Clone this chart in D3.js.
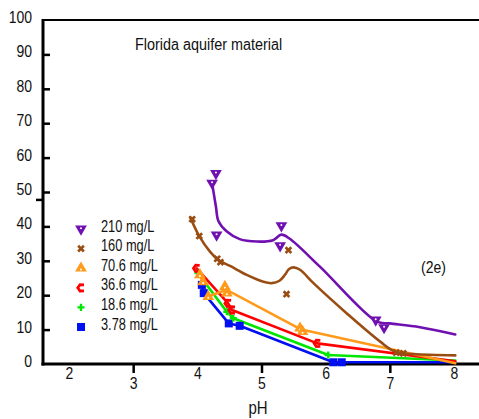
<!DOCTYPE html>
<meta charset="utf-8">
<title>Florida aquifer material</title>
<style>
body { margin: 0; background: #fff; }
svg text { font-family: 'Liberation Sans', Arial, sans-serif; fill: #111; }
.axis .domain { display: none; }
.axis .tick line { stroke: #000; stroke-width: 2.5; }
.fit { fill: none; stroke-width: 2.6; stroke-linejoin: round; stroke-linecap: round; }
</style>
<body>
<svg width="479" height="419"></svg>
<script src="https://d3js.org/d3.v7.min.js"></script>
<script>
// series labels and colours
var seriesNames = ["210 mg/L", "160 mg/L", "70.6 mg/L", "36.6 mg/L", "18.6 mg/L", "3.78 mg/L"];
var seriesColors = ["#7010b0", "#9a4d12", "#ff9a1a", "#ff0000", "#00e600", "#0010f0"];

// measured points [pH, % sorbed]
var pts210 = [[4.29,55.4],[4.23,52.6],[4.30,37.5],[5.31,40.2],[5.29,34.4],[6.78,12.8],[6.91,10.6]];
var pts160 = [[3.92,42.1],[4.03,37.2],[4.31,30.6],[4.36,29.6],[5.42,33.1],[5.39,20.3],[7.10,3.3],[7.21,3.1]];
var pts70  = [[4.04,25.9],[4.09,23.9],[4.17,19.6],[4.43,22.5],[4.46,20.6],[5.60,10.4],[5.64,9.4]];
var pts36  = [[3.99,27.8],[4.48,17.6],[4.54,15.7],[5.87,6.0]];
var pts18  = [[4.01,26.4],[4.46,15.2],[4.56,13.3],[6.04,2.6]];
var pts3   = [[4.07,23.0],[4.10,20.6],[4.49,11.8],[4.66,11.1],[6.12,0.5],[6.25,0.5]];

// model curves [pH, % sorbed]
var fit210 = [[4.23,52.6],[4.29,45.7],[4.33,41.5],[4.46,38.5],[4.66,36.3],[4.93,35.6],[5.18,36.0],[5.31,37.6],[5.44,36.4],[5.91,28.3],[6.80,12.3],[7.00,11.8],[7.47,10.7],[8.02,8.6]];
var fit160 = [[3.89,42.6],[4.03,37.2],[4.20,32.6],[4.33,30.2],[4.51,28.5],[4.77,25.9],[5.03,23.9],[5.16,23.5],[5.28,24.2],[5.36,25.8],[5.43,27.6],[5.50,28.1],[5.60,27.4],[5.81,23.5],[6.33,14.7],[6.85,6.5],[7.08,3.6],[7.37,2.9],[8.02,2.5]];
var fit70  = [[4.04,25.9],[4.17,19.6],[4.45,21.6],[5.62,10.0],[8.02,0.2]];
var fit36  = [[3.99,27.8],[4.48,17.6],[4.54,15.7],[5.87,6.0],[8.02,0.8]];
var fit18  = [[4.01,26.4],[4.46,15.2],[4.56,13.3],[6.04,2.6],[8.02,1.0]];
var fit3   = [[4.07,23.0],[4.10,20.6],[4.49,11.8],[4.66,11.1],[6.12,0.5],[8.02,0.5]];

var yTicks = d3.range(0, 101, 10);
var xTicks = [2, 3, 4, 5, 6, 7, 8];

var svg = d3.select("svg");

var x = d3.scaleLinear().domain([2, 8]).range([69, 454]);
var y = d3.scaleLinear().domain([0, 100]).range([364, 20]);

var x0 = 43, xEnd = 479;
var tall = "scale(1,1.2)";   // the source lettering is drawn a bit tall

// frame: left axis, top rule, bottom axis
svg.append("line").attr("x1", x0).attr("x2", x0).attr("y1", y(100) - 1).attr("y2", y(0) + 1.5)
  .attr("stroke", "#000").attr("stroke-width", 3);
svg.append("line").attr("x1", x0).attr("x2", xEnd).attr("y1", y(100)).attr("y2", y(100))
  .attr("stroke", "#000").attr("stroke-width", 2);
svg.append("line").attr("x1", x0 - 1.5).attr("x2", xEnd).attr("y1", y(0)).attr("y2", y(0))
  .attr("stroke", "#000").attr("stroke-width", 3);
// stray outer tick left of the axis
svg.append("line").attr("x1", x0 - 7).attr("x2", x0).attr("y1", y(47.7)).attr("y2", y(47.7))
  .attr("stroke", "#000").attr("stroke-width", 2.5);

// y axis
var gy = svg.append("g").attr("class", "axis")
  .attr("transform", "translate(" + x0 + ",0)")
  .call(d3.axisLeft(y).tickValues(yTicks).tickSizeInner(-7).tickSizeOuter(0).tickPadding(11));
gy.selectAll(".tick text").attr("font-size", 14).attr("dy", 2).attr("transform", tall);
gy.selectAll(".tick").filter(function(d) { return d === 100 || d === 0; }).select("line").remove();

// x axis: odd ticks hang down, their labels sit lower
var gx = svg.append("g").attr("class", "axis")
  .attr("transform", "translate(0," + y(0) + ")")
  .call(d3.axisBottom(x).tickValues(xTicks).tickFormat(d3.format("d"))
    .tickSizeInner(9).tickSizeOuter(0).tickPadding(0));
gx.selectAll(".tick").filter(function(d) { return d % 2 === 0; }).select("line").remove();
gx.selectAll(".tick text").attr("font-size", 14)
  .attr("y", function(d) { return d % 2 === 0 ? 12.5 : 20.8; })
  .attr("dy", 0).attr("transform", tall);

function label(px, py, size, sy, str, anchor) {
  return svg.append("text")
    .attr("transform", "translate(" + px + "," + py + ") scale(1," + sy + ")")
    .attr("font-size", size).attr("text-anchor", anchor || "start").text(str);
}

label(258, 414, 15, 1.2, "pH", "middle");
label(135, 50, 14.4, 1.2, "Florida aquifer material");
label(421, 273, 14, 1.2, "(2e)");

// curves
var smooth = d3.line().x(function(d) { return x(d[0]); }).y(function(d) { return y(d[1]); })
  .curve(d3.curveCatmullRom.alpha(0.5));
var straight = d3.line().x(function(d) { return x(d[0]); }).y(function(d) { return y(d[1]); });

var fits = [
  {data: fit3, c: 5, line: straight},
  {data: fit18, c: 4, line: straight},
  {data: fit36, c: 3, line: straight},
  {data: fit70, c: 2, line: straight},
  {data: fit160, c: 1, line: smooth},
  {data: fit210, c: 0, line: smooth}
];
svg.selectAll("path.fit").data(fits).enter().append("path")
  .attr("class", "fit")
  .attr("stroke", function(d) { return seriesColors[d.c]; })
  .attr("d", function(d) { return d.line(d.data); });

// marker drawing
function marker(sel, k) {
  var col = seriesColors[k];
  if (k === 0) {
    sel.append("path").attr("d", d3.symbol(d3.symbolTriangle, 60)())
      .attr("transform", "rotate(180)").attr("fill", col);
    sel.append("circle").attr("r", 1).attr("cy", -0.8).attr("fill", "#fff");
  } else if (k === 1) {
    sel.append("path").attr("d", d3.symbol(d3.symbolCross, 36)())
      .attr("transform", "rotate(45)").attr("fill", col);
  } else if (k === 2) {
    sel.append("path").attr("d", d3.symbol(d3.symbolTriangle, 60)()).attr("fill", col);
    sel.append("circle").attr("r", 1).attr("cy", 1.2).attr("fill", "#fff");
  } else if (k === 3) {
    sel.append("path").attr("d", "M3,-3L-1,-3.2L-3.2,0L-1,3.2L3,3")
      .attr("fill", "none").attr("stroke", col).attr("stroke-width", 2.8);
  } else if (k === 4) {
    sel.append("path").attr("d", d3.symbol(d3.symbolCross, 28)()).attr("fill", col);
  } else {
    sel.append("path").attr("d", d3.symbol(d3.symbolSquare, 64)()).attr("fill", col);
  }
}

var ptSets = [pts3, pts18, pts36, pts70, pts160, pts210];
ptSets.forEach(function(set, i) {
  var k = 5 - i;
  svg.append("g").selectAll("g").data(set).enter().append("g")
    .attr("transform", function(d) { return "translate(" + x(d[0]) + "," + y(d[1]) + ")"; })
    .each(function() { marker(d3.select(this), k); });
});

// legend
var legend = svg.append("g").attr("transform", "translate(81,229)");
var items = legend.selectAll("g").data(seriesNames).enter().append("g")
  .attr("transform", function(d, i) { return "translate(0," + (i * 19.6) + ")"; });
items.each(function(d, i) { marker(d3.select(this), i); });
items.append("text").attr("transform", "translate(20,2.6) scale(1,1.25)")
  .attr("font-size", 12.8).text(function(d) { return d; });
</script>
</body>
